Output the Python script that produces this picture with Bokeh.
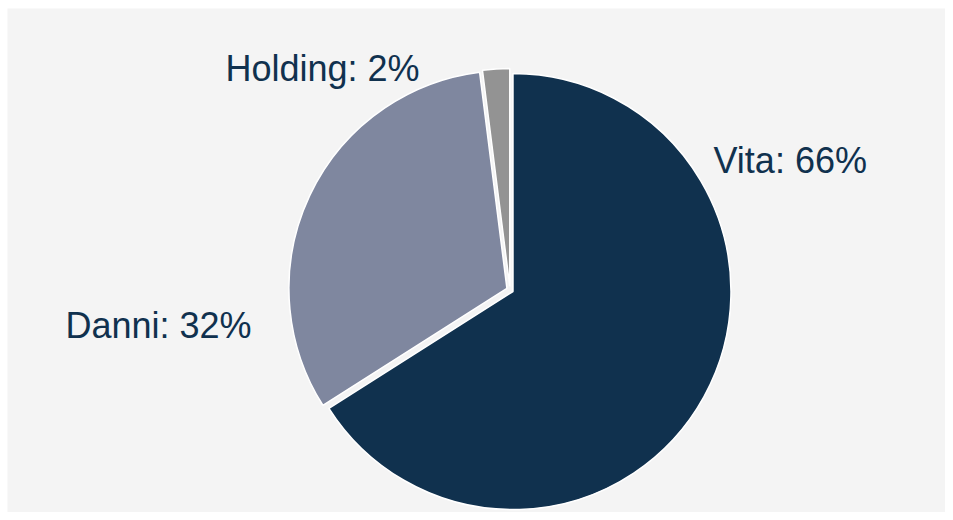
import math
from bokeh.plotting import figure
from bokeh.models import ColumnDataSource
from bokeh.core.properties import value
from bokeh.embed import file_html
from bokeh.resources import INLINE

# Data
categories = ["Vita", "Danni", "Holding"]
shares = [66, 32, 2]
colors = ["#10314e", "#7f879f", "#939393"]

W, H = 945, 512
BL, BT = 7, 8
cx, cy = 509.5, 222.6
R = 218
explode = 3.4

total = float(sum(shares))
starts, ends, xs, ys = [], [], [], []
a = math.pi / 2
for s in shares:
    sweep = 2 * math.pi * s / total
    start = a
    end = a - sweep
    mid = (start + end) / 2
    starts.append(start)
    ends.append(end)
    xs.append(cx + explode * math.cos(mid))
    ys.append(cy + explode * math.sin(mid))
    a = end

src = ColumnDataSource(dict(x=xs, y=ys, start=starts, end=ends, color=colors))

p = figure(width=W, height=H, x_range=(BL, W), y_range=(0, H - BT),
           output_backend="svg", toolbar_location=None,
           min_border_left=BL, min_border_top=BT, min_border_right=0, min_border_bottom=0)
p.axis.visible = False
p.grid.visible = False
p.outline_line_color = None
p.background_fill_color = "#f4f4f4"
p.border_fill_color = "white"

p.wedge(x="x", y="y", radius=R, radius_units="screen", start_angle="start", end_angle="end",
        direction="clock", fill_color="color", line_color="white", line_width=1.5, source=src)

labels = [f"{c}: {s}%" for c, s in zip(categories, shares)]
lx = [713, 65, 225]
ly = [352, 187, 444]
lsrc = ColumnDataSource(dict(x=lx, y=ly, t=labels))
p.text(x="x", y="y", text="t", source=lsrc, text_font=value("Liberation Sans"),
       text_font_size="36px", text_color="#10314e", text_align="left",
       text_baseline="alphabetic")

open("out.html", "w").write(file_html(p, INLINE))
